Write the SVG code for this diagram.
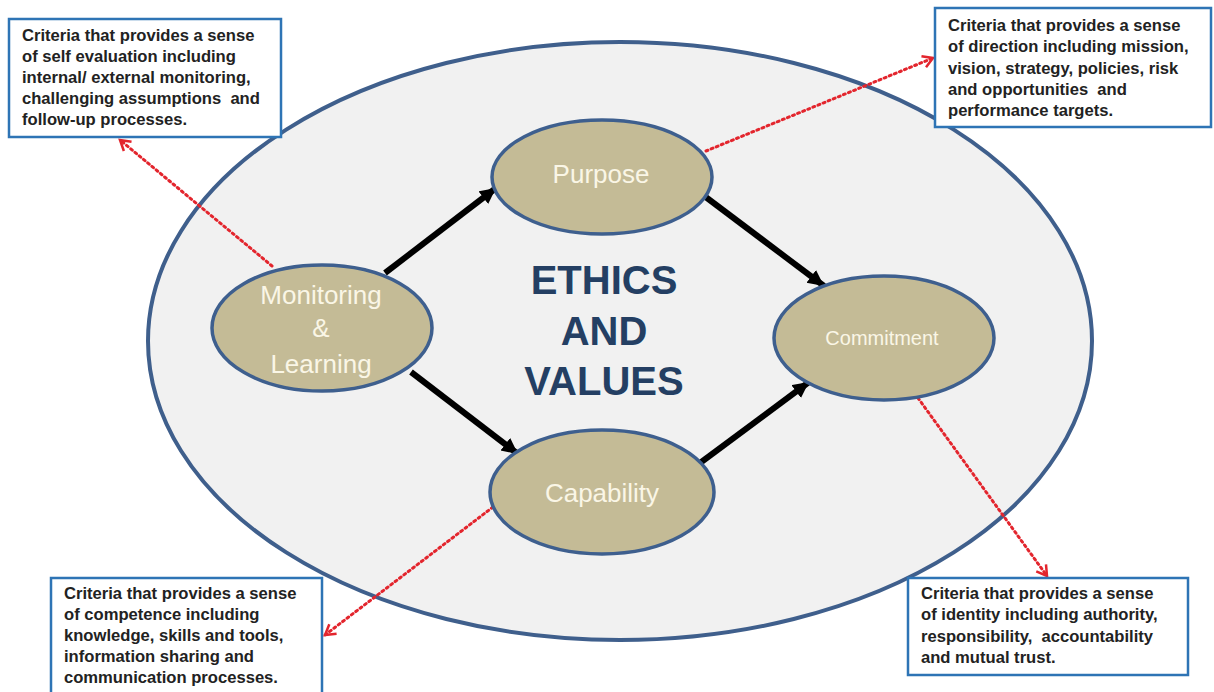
<svg xmlns="http://www.w3.org/2000/svg" width="1214" height="692" viewBox="0 0 1214 692">
  <style>
    .outer { fill: #f1f1f1; stroke: #3f5f8c; stroke-width: 4; }
    .node { fill: #c4bb96; stroke: #3e5f8e; stroke-width: 3.5; }
    .nlabel { font-family: "Liberation Sans", Arial, sans-serif; fill: #faf6e6; text-anchor: middle; }
    .title { font-family: "Liberation Sans", Arial, sans-serif; font-weight: bold; font-size: 40px; fill: #243f63; text-anchor: middle; }
    .box { fill: #ffffff; stroke: #2e74b5; stroke-width: 2.5; }
    .btext { font-family: "Liberation Sans", Arial, sans-serif; font-weight: bold; font-size: 16.6px; fill: #222222; white-space: pre; }
    .flow { stroke: #000000; stroke-width: 6; fill: none; marker-end: url(#blackHead); }
    .note { stroke: #e3252d; stroke-width: 3; stroke-dasharray: 2 3.5; stroke-linecap: round; fill: none; marker-end: url(#redHead); }
  </style>
  <defs>
    <marker id="blackHead" markerUnits="userSpaceOnUse" markerWidth="20" markerHeight="20" refX="16" refY="8" orient="auto">
      <path d="M0,0 L16,8 L0,16 Z" fill="#000000"/>
    </marker>
    <marker id="redHead" markerUnits="userSpaceOnUse" markerWidth="16" markerHeight="16" refX="12" refY="8" orient="auto">
      <path d="M2,2 L12,8 L2,14" fill="none" stroke="#e3252d" stroke-width="2.5"/>
    </marker>
  </defs>

  <rect x="0" y="0" width="1214" height="692" fill="#ffffff"/>

  <!-- outer field -->
  <ellipse class="outer" cx="620" cy="341" rx="472" ry="299"/>

  <!-- connectors -->
  <g id="connectors">
    <line class="flow" x1="385" y1="273" x2="496" y2="188"/>
    <line class="flow" x1="703" y1="195" x2="824" y2="286"/>
    <line class="flow" x1="411" y1="372" x2="518" y2="454"/>
    <line class="flow" x1="700" y1="463" x2="809" y2="382"/>
    <line class="note" x1="272" y1="266" x2="120" y2="140"/>
    <line class="note" x1="706" y1="151" x2="933" y2="58"/>
    <line class="note" x1="493" y1="507" x2="325" y2="635"/>
    <line class="note" x1="918" y1="398" x2="1047" y2="576"/>
  </g>

  <text class="title" x="604" y="294">ETHICS</text>
  <text class="title" x="604" y="345">AND</text>
  <text class="title" x="604" y="395">VALUES</text>

  <g id="purpose">
    <ellipse class="node" cx="602" cy="177" rx="110" ry="57"/>
    <text class="nlabel" x="601" y="183" font-size="26">Purpose</text>
  </g>
  <g id="monitoring">
    <ellipse class="node" cx="322" cy="328" rx="110" ry="63"/>
    <text class="nlabel" x="321" y="304" font-size="26">Monitoring</text>
    <text class="nlabel" x="321" y="337" font-size="26">&amp;</text>
    <text class="nlabel" x="321" y="373" font-size="26">Learning</text>
  </g>
  <g id="commitment">
    <ellipse class="node" cx="884" cy="338" rx="110" ry="62"/>
    <text class="nlabel" x="882" y="345" font-size="20">Commitment</text>
  </g>
  <g id="capability">
    <ellipse class="node" cx="602" cy="492" rx="112" ry="62"/>
    <text class="nlabel" x="602" y="502" font-size="26">Capability</text>
  </g>

  <g id="note-self-evaluation">
    <rect class="box" x="9" y="19" width="272" height="118"/>
    <text class="btext" x="22" y="41">Criteria that provides a sense</text>
    <text class="btext" x="22" y="62">of self evaluation including</text>
    <text class="btext" x="22" y="83">internal/ external monitoring,</text>
    <text class="btext" x="22" y="104">challenging assumptions  and</text>
    <text class="btext" x="22" y="125">follow-up processes.</text>
  </g>
  <g id="note-direction">
    <rect class="box" x="935" y="8" width="276" height="119"/>
    <text class="btext" x="948" y="31">Criteria that provides a sense</text>
    <text class="btext" x="948" y="52">of direction including mission,</text>
    <text class="btext" x="948" y="74">vision, strategy, policies, risk</text>
    <text class="btext" x="948" y="95">and opportunities  and</text>
    <text class="btext" x="948" y="116">performance targets.</text>
  </g>
  <g id="note-competence">
    <rect class="box" x="51" y="578" width="271" height="120"/>
    <text class="btext" x="64" y="599">Criteria that provides a sense</text>
    <text class="btext" x="64" y="620">of competence including</text>
    <text class="btext" x="64" y="641">knowledge, skills and tools,</text>
    <text class="btext" x="64" y="662">information sharing and</text>
    <text class="btext" x="64" y="683">communication processes.</text>
  </g>
  <g id="note-identity">
    <rect class="box" x="908" y="578" width="280" height="97"/>
    <text class="btext" x="921" y="599">Criteria that provides a sense</text>
    <text class="btext" x="921" y="620">of identity including authority,</text>
    <text class="btext" x="921" y="642">responsibility,  accountability</text>
    <text class="btext" x="921" y="663">and mutual trust.</text>
  </g>
</svg>
